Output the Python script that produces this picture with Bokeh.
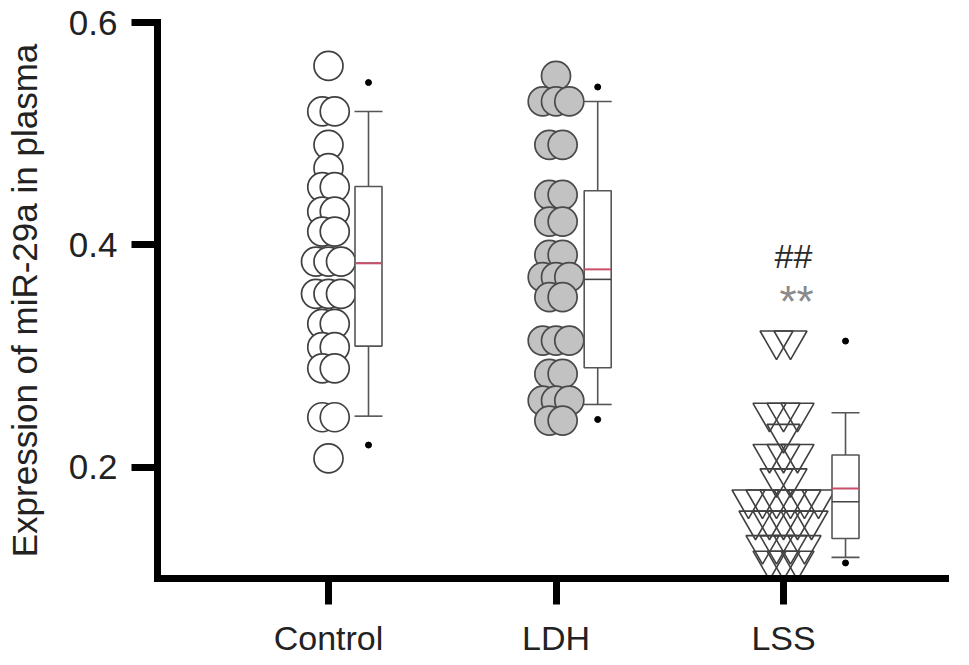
from bokeh.plotting import figure
from bokeh.models import Range1d, FixedTicker
from bokeh.embed import file_html
from bokeh.resources import INLINE
from bokeh.core.properties import value

# ---------------- data ----------------
groups = ["Control", "LDH", "LSS"]
group_x = [1, 2, 3]

control_vals = [0.561, 0.520, 0.520, 0.490, 0.469, 0.452, 0.452, 0.430, 0.430,
                0.412, 0.412, 0.385, 0.385, 0.385, 0.356, 0.356, 0.356,
                0.329, 0.329, 0.308, 0.308, 0.289, 0.289, 0.245, 0.245, 0.208]
ldh_vals = [0.552, 0.529, 0.529, 0.529, 0.490, 0.490, 0.445, 0.445, 0.421, 0.421,
            0.391, 0.391, 0.371, 0.371, 0.371, 0.353, 0.353, 0.314, 0.314, 0.314,
            0.284, 0.284, 0.260, 0.260, 0.260, 0.242, 0.242]
lss_vals = [0.314, 0.314, 0.249, 0.249, 0.249, 0.230, 0.212, 0.212, 0.212,
            0.190, 0.190, 0.171, 0.171, 0.171, 0.171, 0.171, 0.171,
            0.152, 0.152, 0.152, 0.152, 0.152, 0.130, 0.130, 0.130, 0.130,
            0.116, 0.116, 0.116]

box_q1 = [0.309, 0.2895, 0.136]
box_q3 = [0.4525, 0.4487, 0.211]
box_median = [0.3835, 0.369, 0.169]
box_mean = [0.3835, 0.378, 0.181]
whisker_low = [0.246, 0.2565, 0.119]
whisker_high = [0.520, 0.529, 0.249]
outlier_low = [0.220, 0.243, 0.114]
outlier_high = [0.546, 0.542, 0.3135]

yticks = [0.2, 0.4, 0.6]
ytick_labels = ["0.2", "0.4", "0.6"]
sig_hash = "##"
sig_star = "**"

# ---------------- layout constants ----------------
UNIT_PX = 227.5
box_offset = [40 / UNIT_PX, 41.7 / UNIT_PX, 62 / UNIT_PX]
box_half = 13.5 / UNIT_PX
cap_half = 14.0 / UNIT_PX
FONT = "Liberation Sans"


def spread(vals, center, step):
    xs = []
    i = 0
    while i < len(vals):
        j = i
        while j < len(vals) and vals[j] == vals[i]:
            j += 1
        n = j - i
        for k in range(n):
            xs.append(center + (k - (n - 1) / 2) * step)
        i = j
    return xs


p = figure(width=950, height=662, output_backend="svg", toolbar_location=None,
           x_range=Range1d(0.2484, 3.712), y_range=Range1d(0.1, 0.6),
           min_border_left=157, min_border_right=5, min_border_top=22,
           min_border_bottom=84)
p.outline_line_color = None
p.xgrid.visible = False
p.ygrid.visible = False
p.background_fill_color = "white"
p.border_fill_color = "white"

# scatter columns
p.scatter(spread(control_vals, group_x[0], 12.5 / UNIT_PX), control_vals,
          marker="circle", size=29, fill_color="white",
          line_color="#404040", line_width=1.7)
p.scatter(spread(ldh_vals, group_x[1], 13.3 / UNIT_PX), ldh_vals,
          marker="circle", size=29, fill_color="#c2c2c2",
          line_color="#4a4a4a", line_width=1.7)
p.scatter(spread(lss_vals, group_x[2], 14.0 / UNIT_PX), lss_vals,
          marker="inverted_triangle", size=33, fill_color=None,
          line_color="#404040", line_width=1.6)

# box plots
bx = [g + o for g, o in zip(group_x, box_offset)]
box_col = "#555555"
p.segment(bx, box_q3, bx, whisker_high, line_color=box_col, line_width=1.6)
p.segment(bx, box_q1, bx, whisker_low, line_color=box_col, line_width=1.6)
p.segment([x - cap_half for x in bx], whisker_high, [x + cap_half for x in bx],
          whisker_high, line_color=box_col, line_width=1.6)
p.segment([x - cap_half for x in bx], whisker_low, [x + cap_half for x in bx],
          whisker_low, line_color=box_col, line_width=1.6)
p.quad(left=[x - box_half for x in bx], right=[x + box_half for x in bx],
       bottom=box_q1, top=box_q3, fill_color="white", line_color=box_col,
       line_width=1.6)
p.segment([x - box_half for x in bx], box_median, [x + box_half for x in bx],
          box_median, line_color="#444444", line_width=1.6)
p.segment([x - box_half for x in bx], box_mean, [x + box_half for x in bx],
          box_mean, line_color="#c8506a", line_width=2)
p.scatter(bx, outlier_low, marker="circle", size=6, fill_color="black",
          line_color="black")
p.scatter(bx, outlier_high, marker="circle", size=6, fill_color="black",
          line_color="black")

# significance marks over LSS
p.text([group_x[2] + 10 / UNIT_PX], [0.390], text=[sig_hash], text_align="center",
       text_baseline="middle", text_font=value(FONT), text_font_size="34px",
       text_color="#2a2a2a")
p.text([group_x[2] + 13 / UNIT_PX], [0.354], text=[sig_star], text_align="center",
       text_baseline="alphabetic", y_offset=5, text_font=value(FONT),
       text_font_size="44px", text_color="#8a8a8a")

# axes
for ax in (p.xaxis[0], p.yaxis[0]):
    ax.axis_line_width = 7
    ax.axis_line_color = "black"
    ax.axis_line_cap = "square"
    ax.major_tick_line_width = 7
    ax.major_tick_line_color = "black"
    ax.major_tick_in = 0
    ax.major_tick_out = 26
    ax.minor_tick_line_color = None
    ax.major_label_text_font = FONT
    ax.major_label_text_font_size = "34px"
    ax.major_label_text_color = "#222222"
    ax.major_label_standoff = 14

p.xaxis.ticker = FixedTicker(ticks=group_x)
p.xaxis.major_label_overrides = {x: g for x, g in zip(group_x, groups)}
p.yaxis.ticker = FixedTicker(ticks=yticks)
p.yaxis.major_label_overrides = {t: s for t, s in zip(yticks, ytick_labels)}
p.yaxis.major_label_text_font_size = "35px"
p.yaxis.axis_label = "Expression of miR-29a in plasma"
p.yaxis.axis_label_text_font = FONT
p.yaxis.axis_label_text_font_style = "normal"
p.yaxis.axis_label_text_font_size = "35px"
p.yaxis.axis_label_text_color = "#222222"
p.yaxis.axis_label_standoff = 22

open("out.html", "w").write(file_html(p, INLINE))
